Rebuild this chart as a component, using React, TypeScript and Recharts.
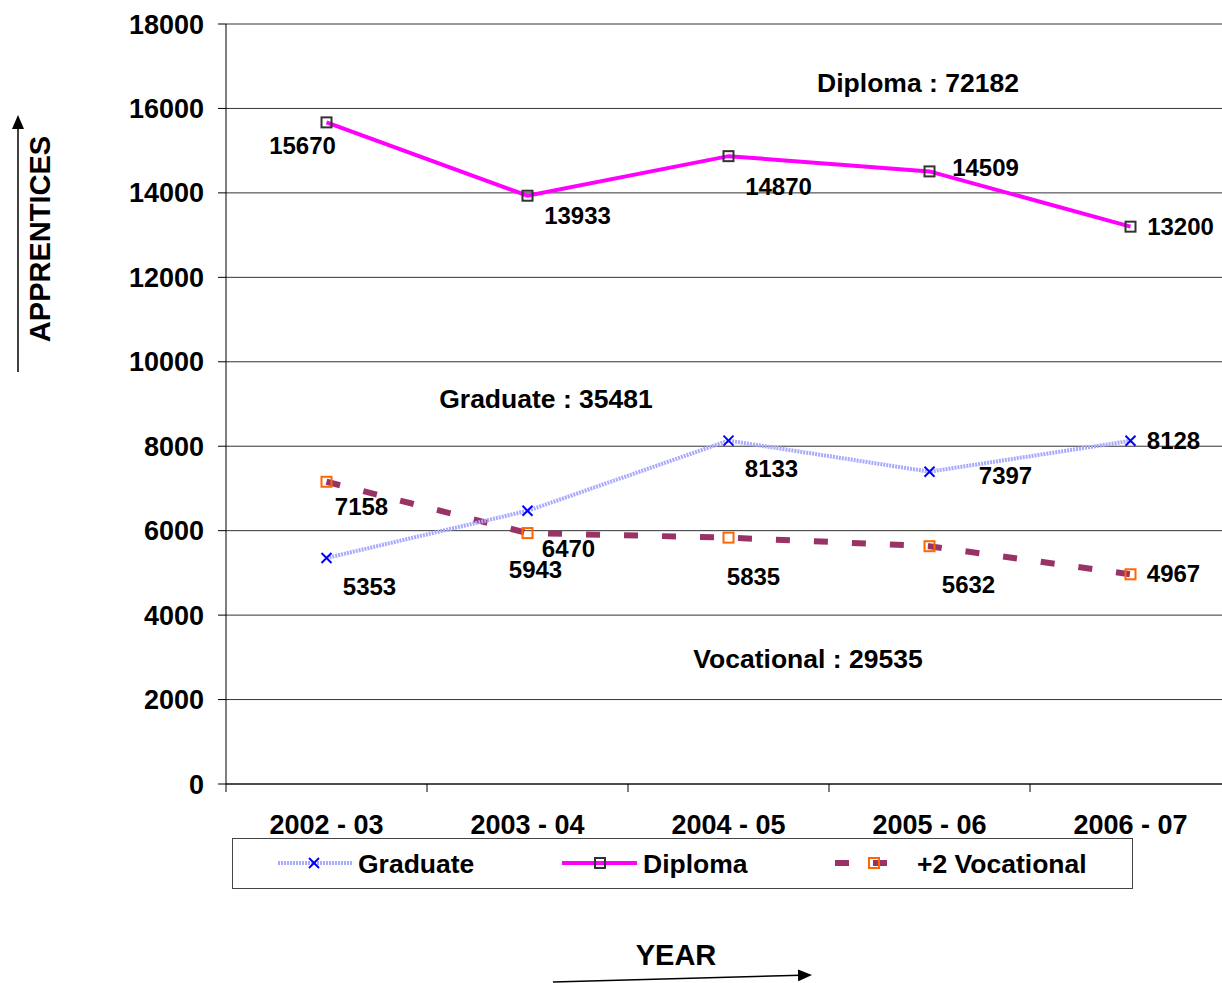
import React from 'react';
import { LineChart, Line, XAxis, YAxis, CartesianGrid, LabelList } from 'recharts';

const years = ['2002 - 03', '2003 - 04', '2004 - 05', '2005 - 06', '2006 - 07'];
const graduate = [5353, 6470, 8133, 7397, 8128];
const diploma = [15670, 13933, 14870, 14509, 13200];
const vocational = [7158, 5943, 5835, 5632, 4967];
const yTicks = [0, 2000, 4000, 6000, 8000, 10000, 12000, 14000, 16000, 18000];

const graduateTotal = 35481;
const diplomaTotal = 72182;
const vocationalTotal = 29535;

// label offsets (dx, dy) from each point, per series
const diplomaOffsets = [[-24, 23], [50, 20], [50, 30], [56, -4], [50, 0]];
const graduateOffsets = [[43, 29], [41, 38], [43, 28], [76, 4], [43, 0]];
const vocationalOffsets = [[35, 25], [8, 36], [25, 39], [39, 38], [43, -1]];

const data = years.map((year, i) => ({
  year,
  graduate: graduate[i],
  diploma: diploma[i],
  vocational: vocational[i],
}));

const FONT = '"Liberation Sans", Arial, sans-serif';
const GRAD_COLOR = '#a9a9ff';
const DIP_COLOR = '#ff00ff';
const VOC_COLOR = '#993366';
const PLOT_W = 1005;
const HALF_BAND = PLOT_W / years.length / 2;

const makeLabel = (series: number[], offsets: number[][]) => (props: any) => {
  const { x, y, value } = props;
  const i = series.indexOf(value);
  const [dx, dy] = offsets[i] || [0, 0];
  return (
    <text x={x + dx} y={y + dy} textAnchor="middle" dominantBaseline="central"
      fontFamily={FONT} fontWeight="bold" fontSize={24} fill="#000">
      {value}
    </text>
  );
};

const XMark = ({ cx, cy, size = 5 }: any) => (
  <g>
    <line x1={cx - size} y1={cy - size} x2={cx + size} y2={cy + size} stroke="#0000ff" strokeWidth={2} />
    <line x1={cx - size} y1={cy + size} x2={cx + size} y2={cy - size} stroke="#0000ff" strokeWidth={2} />
  </g>
);

const SquareMark = ({ cx, cy, color }: any) => (
  <rect x={cx - 5} y={cy - 5} width={10} height={10} fill="none" stroke={color} strokeWidth={2} />
);

const XTick = (props: any) => {
  const { x, y, payload } = props;
  return (
    <g>
      <line x1={x - HALF_BAND} y1={y} x2={x - HALF_BAND} y2={y + 8} stroke="#000" strokeWidth={1} />
      <text x={x} y={y + 41} textAnchor="middle" dominantBaseline="central"
        fontFamily={FONT} fontWeight="bold" fontSize={27} fill="#000">
        {payload.value}
      </text>
    </g>
  );
};

const textStyle = { fontFamily: FONT, fontWeight: 'bold' as const, fill: '#000' };

export default function App() {
  return (
    <div style={{ position: 'absolute', left: 0, top: 0, width: 1222, height: 983, overflow: 'hidden', background: '#fff' }}>
      <LineChart width={1240} height={983} data={data}
        margin={{ top: 24, right: 9, left: 0, bottom: 139 }}>
        <CartesianGrid vertical={false} stroke="#333" strokeWidth={1} />
        <XAxis dataKey="year" height={60} stroke="#000" tickLine={false} tickSize={0} tickMargin={0}
          padding={{ left: HALF_BAND, right: HALF_BAND }} tick={<XTick />} interval={0} />
        <YAxis width={226} domain={[0, 18000]} ticks={yTicks} stroke="#000" tickSize={8} tickMargin={14}
          tick={{ fontFamily: FONT, fontWeight: 'bold', fontSize: 27, fill: '#000' }} />
        <Line dataKey="vocational" stroke={VOC_COLOR} strokeWidth={6} strokeDasharray="14 24"
          isAnimationActive={false} activeDot={false}
          dot={(p: any) => <SquareMark key={`v${p.index}`} cx={p.cx} cy={p.cy} color="#ff6600" />}>
          <LabelList dataKey="vocational" content={makeLabel(vocational, vocationalOffsets)} />
        </Line>
        <Line dataKey="graduate" stroke={GRAD_COLOR} strokeWidth={4} strokeDasharray="2 1"
          isAnimationActive={false} activeDot={false}
          dot={(p: any) => <XMark key={`g${p.index}`} cx={p.cx} cy={p.cy} />}>
          <LabelList dataKey="graduate" content={makeLabel(graduate, graduateOffsets)} />
        </Line>
        <Line dataKey="diploma" stroke={DIP_COLOR} strokeWidth={4}
          isAnimationActive={false} activeDot={false}
          dot={(p: any) => <SquareMark key={`d${p.index}`} cx={p.cx} cy={p.cy} color="#333" />}>
          <LabelList dataKey="diploma" content={makeLabel(diploma, diplomaOffsets)} />
        </Line>
      </LineChart>

      <svg width={1222} height={983} style={{ position: 'absolute', left: 0, top: 0, pointerEvents: 'none' }}>
        <defs>
          <marker id="arrow" markerWidth="14" markerHeight="12" refX="12" refY="6" orient="auto" markerUnits="userSpaceOnUse">
            <path d="M0,0 L14,6 L0,12 z" fill="#000" />
          </marker>
        </defs>
        <text x={918} y={83} textAnchor="middle" dominantBaseline="central" fontSize={26.5} {...textStyle}>
          {`Diploma : ${diplomaTotal}`}
        </text>
        <text x={546} y={399} textAnchor="middle" dominantBaseline="central" fontSize={26.5} {...textStyle}>
          {`Graduate : ${graduateTotal}`}
        </text>
        <text x={808} y={659} textAnchor="middle" dominantBaseline="central" fontSize={26.5} {...textStyle}>
          {`Vocational : ${vocationalTotal}`}
        </text>

        {/* y title + arrow */}
        <line x1={18} y1={372} x2={18} y2={117} stroke="#000" strokeWidth={1.5} markerEnd="url(#arrow)" />
        <text x={40} y={239} transform="rotate(-90 40 239)" textAnchor="middle" dominantBaseline="central"
          fontSize={29} {...textStyle}>APPRENTICES</text>

        {/* x title + arrow */}
        <text x={676} y={955} textAnchor="middle" dominantBaseline="central" fontSize={29} {...textStyle}>YEAR</text>
        <line x1={553} y1={982} x2={810} y2={975} stroke="#000" strokeWidth={1.5} markerEnd="url(#arrow)" />

        {/* legend */}
        <rect x={232.5} y={838.5} width={900} height={50} fill="none" stroke="#444" strokeWidth={1} />
        <line x1={278} y1={863} x2={352} y2={863} stroke={GRAD_COLOR} strokeWidth={4} strokeDasharray="2 1" />
        <XMark cx={314} cy={863} />
        <text x={358} y={864} dominantBaseline="central" fontSize={26.5} {...textStyle}>Graduate</text>
        <line x1={562} y1={863} x2={637} y2={863} stroke={DIP_COLOR} strokeWidth={4} />
        <SquareMark cx={600} cy={863} color="#333" />
        <text x={643} y={864} dominantBaseline="central" fontSize={26.5} {...textStyle}>Diploma</text>
        <line x1={835} y1={863} x2={894} y2={863} stroke={VOC_COLOR} strokeWidth={6} strokeDasharray="14 24" />
        <SquareMark cx={874} cy={863} color="#ff6600" />
        <text x={917} y={864} dominantBaseline="central" fontSize={26.5} {...textStyle}>+2 Vocational</text>
      </svg>
    </div>
  );
}
